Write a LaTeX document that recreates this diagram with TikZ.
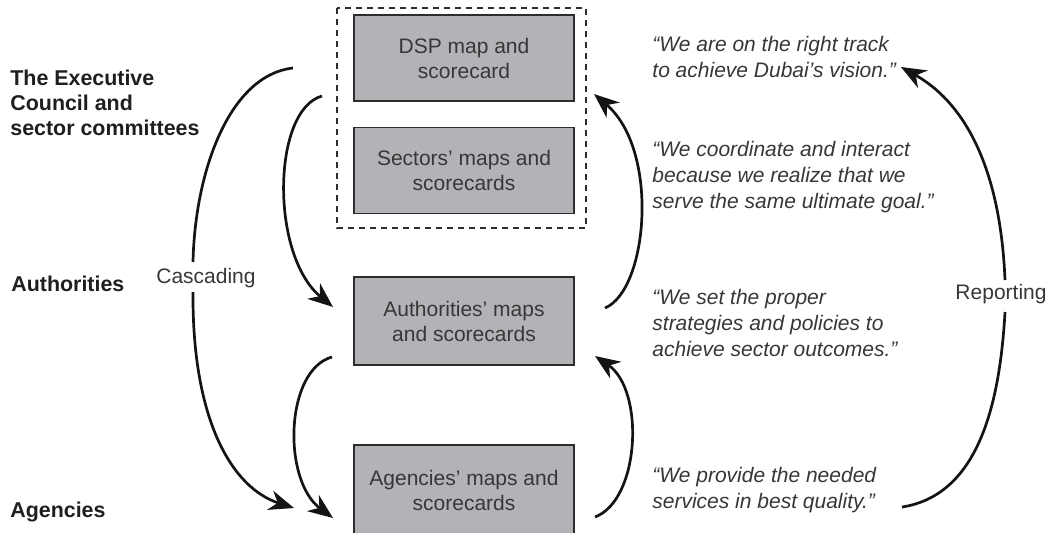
\documentclass[tikz,border=0pt]{standalone}
\usepackage{fontspec}
\setmainfont{Liberation Sans}
\usetikzlibrary{arrows.meta}
\definecolor{boxfill}{RGB}{177,179,182}
\definecolor{boxline}{RGB}{45,45,45}
\definecolor{txt}{RGB}{55,55,55}
\begin{document}
\begin{tikzpicture}[x=0.5pt,y=-0.5pt,
  mapbox/.style={draw=boxline, fill=boxfill, line width=0.75pt, minimum width=110pt,
    minimum height=43pt, align=center, font=\fontsize{10.5}{12.5}\selectfont, text=txt, inner sep=0pt},
  quote/.style={anchor=west, align=left, font=\fontsize{10.5}{13}\selectfont\itshape, text=txt, inner sep=0pt},
  level/.style={anchor=west, align=left, font=\fontsize{10.7}{12.5}\selectfont\bfseries, text=black!88, inner sep=0pt},
  flowlabel/.style={font=\fontsize{10.5}{12.5}\selectfont, text=txt, inner sep=0pt},
  flow/.style={line width=1.35pt, draw=black!92, -{Stealth[length=12.5pt,width=10pt,inset=4pt]}},
  flowline/.style={line width=1.35pt, draw=black!92}]
\useasboundingbox (0,0) rectangle (1053,532);

% dashed frame
\draw[boxline, line width=0.6pt, dash pattern=on 3pt off 2.5pt] (337,8) rectangle (586,228);

% boxes
\node[mapbox] (dsp)  at (464,58)  {DSP map and\\scorecard};
\node[mapbox] (sec)  at (464,170.5) {Sectors’ maps and\\scorecards};
\node[mapbox, minimum height=44pt] (auth) at (464,321) {Authorities’ maps\\and scorecards};
\node[mapbox, minimum height=45pt] (agen) at (464,490) {Agencies’ maps and\\scorecards};

% level labels
\node[level, anchor=north west] (exec) at (10,70) {The Executive\\Council and\\sector committees};
\node[level] (authl) at (11,284) {Authorities};
\node[level] (agenl) at (10,512) {Agencies};

% quotes
\node[quote] (q1) at (652,57)  {“We are on the right track\\to achieve Dubai’s vision.”};
\node[quote] (q2) at (652,177) {“We coordinate and interact\\because we realize that we\\serve the same ultimate goal.”};
\node[quote] (q3) at (652,323) {“We set the proper\\strategies and policies to\\achieve sector outcomes.”};
\node[quote] (q4) at (652,490) {“We provide the needed\\services in best quality.”};

% flow labels
\node[flowlabel] (casc) at (206,278) {Cascading};
\node[flowlabel] (rep)  at (1001,294) {Reporting};

% connector end points
\coordinate (c1a) at (293,68);
\coordinate (c1b) at (193,262);
\coordinate (c1c) at (193,292);
\coordinate (c1d) at (294,508);
\coordinate (c2a) at (322,96);
\coordinate (c2b) at (333,307);
\coordinate (c3a) at (332,357);
\coordinate (c3b) at (333,518);
\coordinate (r1a) at (605,308);
\coordinate (r1b) at (594,94);
\coordinate (r2a) at (595,517);
\coordinate (r2b) at (595,356);
\coordinate (r3a) at (902,507);
\coordinate (r3b) at (1005,312);
\coordinate (r3c) at (1005,280);
\coordinate (r3d) at (901,67);

% cascading (left)
\draw[flowline] (c1a) .. controls (230,75) and (195,170) .. (c1b);
\draw[flow] (c1c) .. controls (192,420) and (232,488) .. (c1d);
\draw[flow] (c2a) .. controls (272,110) and (270,255) .. (c2b);
\draw[flow] (c3a) .. controls (285,370) and (282,480) .. (c3b);

% reporting (right)
\draw[flow] (r1a) .. controls (648,290) and (660,150) .. (r1b);
\draw[flow] (r2a) .. controls (640,500) and (645,390) .. (r2b);
\draw[flowline] (r3a) .. controls (980,495) and (1000,400) .. (r3b);
\draw[flow] (r3c) .. controls (1000,160) and (960,100) .. (r3d);
\end{tikzpicture}
\end{document}
